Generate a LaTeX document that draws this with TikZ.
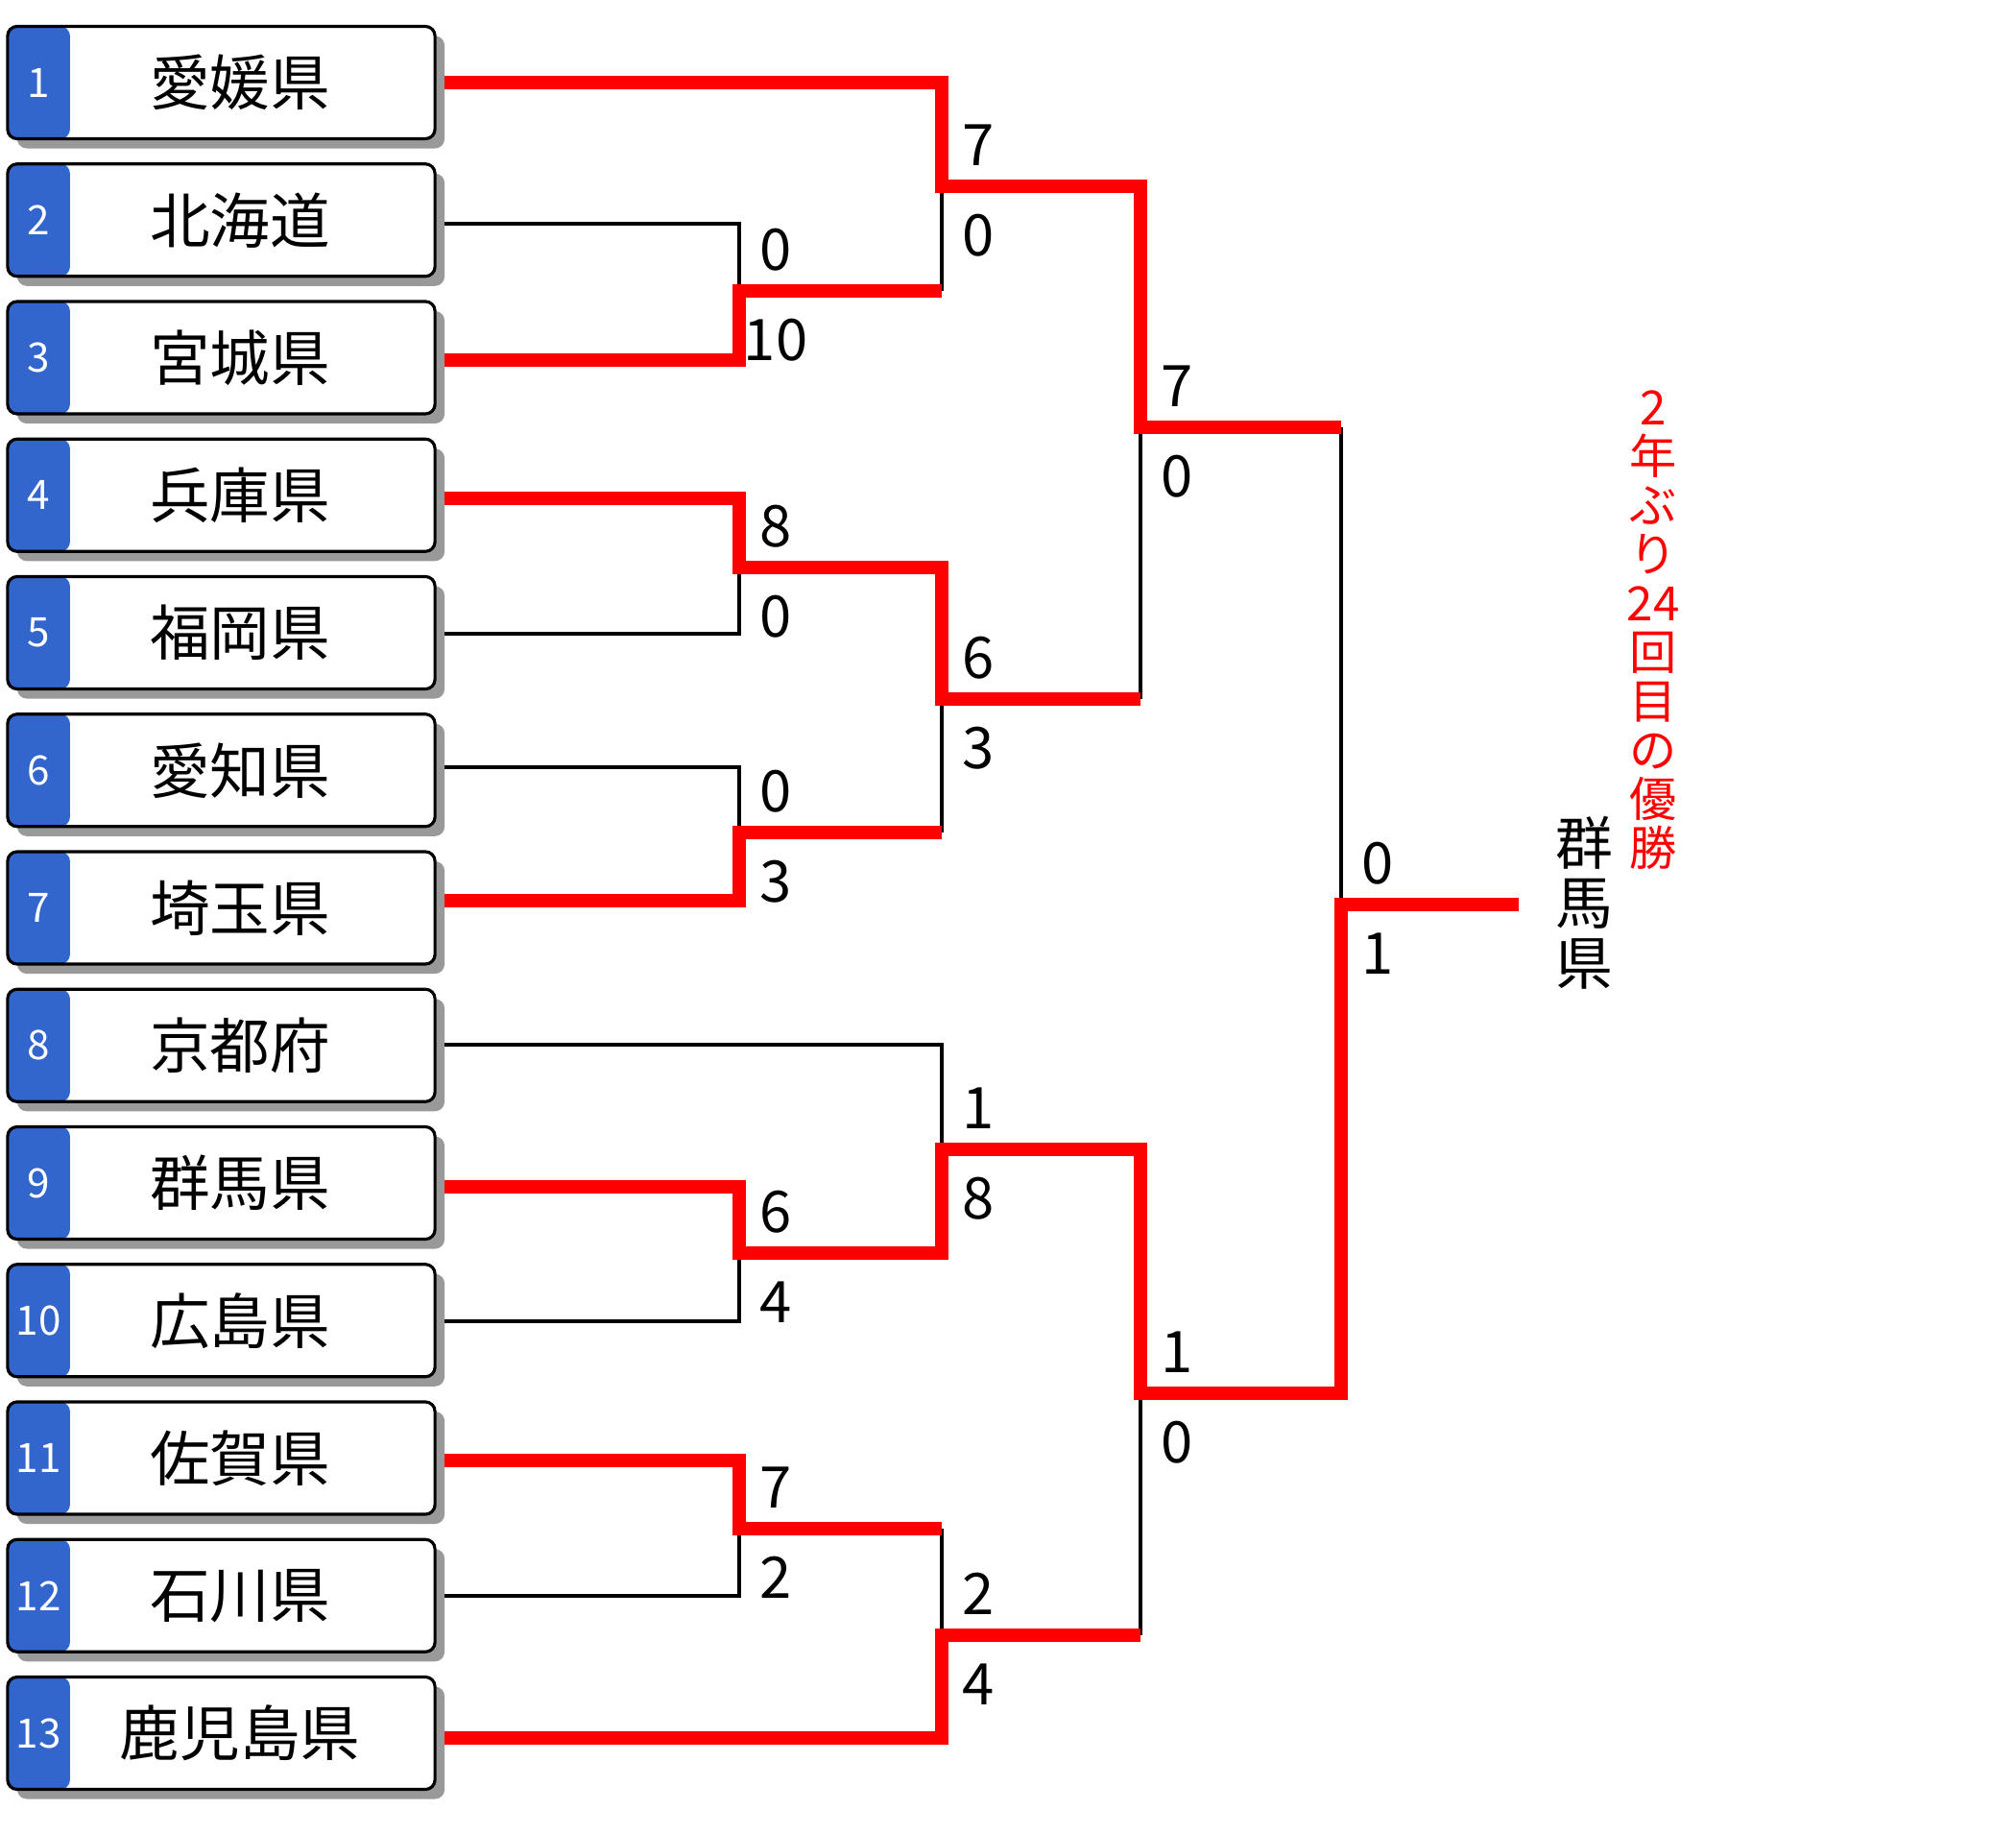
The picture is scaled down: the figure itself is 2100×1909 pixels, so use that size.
\documentclass[tikz,border=0pt]{standalone}
\usepackage{fontspec}
\setmainfont{Noto Sans CJK JP}
\usepackage{xcolor}
\usetikzlibrary{shadows}

\definecolor{seedblue}{RGB}{51,102,204}
\definecolor{shadowgray}{RGB}{153,153,153}

\begin{document}
\begin{tikzpicture}[x=0.01cm, y=-0.01cm,
  team/.style={draw=black, line width=0.9pt, fill=white, rounded corners=0.1cm,
    minimum width=4.45cm, minimum height=1.17cm, inner sep=0pt,
    drop shadow={shadow xshift=0.1cm, shadow yshift=-0.1cm, fill=shadowgray, opacity=1},
    path picture={\fill[seedblue] (path picture bounding box.south west)
      rectangle ([xshift=0.65cm]path picture bounding box.north west);}},
  seed/.style={text=white, inner sep=0pt, font=\fontsize{12pt}{12pt}\selectfont},
  teamname/.style={inner sep=0pt, font=\fontsize{17.8pt}{17.8pt}\selectfont},
  score/.style={inner sep=0pt, font=\fontsize{17pt}{17pt}\selectfont},
  lose/.style={draw=black, line width=1.1pt},
  win/.style={draw=red, line width=3.8pt, line join=miter},
  note/.style={text=red, align=center, inner sep=0pt, font=\fontsize{14pt}{14.5pt}\selectfont},
  winner/.style={align=center, inner sep=0pt, font=\fontsize{17pt}{17.7pt}\selectfont}]
  \useasboundingbox (0,0) rectangle (2100,1909);

  % Define team boxes
  \foreach \i/\name/\ly in {1/愛媛県/86, 2/北海道/233, 3/宮城県/375, 4/兵庫県/519,
      5/福岡県/660, 6/愛知県/799, 7/埼玉県/938, 8/京都府/1088, 9/群馬県/1236,
      10/広島県/1376, 11/佐賀県/1521, 12/石川県/1662, 13/鹿児島県/1810} {
    \pgfmathsetmacro\yy{86+143.25*(\i-1)}
    \node[team] (t\i) at (230.5,\yy) {};
    \node[seed] (s\i) at (40,\yy) {\i};
    \node[teamname] (n\i) at (250,\yy) {\name};
    \coordinate (p\i) at (463,\ly);
  }

  % Define match points
  \coordinate (m23) at (770,303);
  \coordinate (m45) at (770,591);
  \coordinate (m67) at (770,867);
  \coordinate (m910) at (770,1305);
  \coordinate (m1112) at (770,1592);
  \coordinate (m123) at (981,194);
  \coordinate (m4567) at (981,728);
  \coordinate (m8910) at (981,1197);
  \coordinate (m111213) at (981,1703);
  \coordinate (sf1) at (1188,445);
  \coordinate (sf2) at (1188,1451);
  \coordinate (fin) at (1397,942);
  \coordinate (goal) at (1582,942);

  % Losers
  \draw[lose] (p2) -| (m23);
  \draw[lose] (p5) -| (m45);
  \draw[lose] (p6) -| (m67);
  \draw[lose] (p8) -| (m8910);
  \draw[lose] (p10) -| (m910);
  \draw[lose] (p12) -| (m1112);
  \draw[lose] (m23 -| m123) -- (m123);
  \draw[lose] (m67 -| m4567) -- (m4567);
  \draw[lose] (m4567 -| sf1) -- (sf1);
  \draw[lose] (m1112 -| m111213) -- (m111213);
  \draw[lose] (m111213 -| sf2) -- (sf2);
  \draw[lose] (sf1 -| fin) -- (fin);

  % Winners
  \draw[win] (p1) -| (m123) -| (sf1) -- (sf1 -| fin);
  \draw[win] (p3) -| (m23) -- (m23 -| m123);
  \draw[win] (p4) -| (m45) -| (m4567) -- (m4567 -| sf1);
  \draw[win] (p7) -| (m67) -- (m67 -| m4567);
  \draw[win] (p9) -| (m910) -| (m8910) -| (sf2) -| (fin) -- (goal);
  \draw[win] (p11) -| (m1112) -- (m1112 -| m111213);
  \draw[win] (p13) -| (m111213) -- (m111213 -| sf2);

  % Scores
  \foreach \m/\u/\d in {m23/0/10, m45/8/0, m67/0/3, m910/6/4, m1112/7/2,
      m123/7/0, m4567/6/3, m8910/1/8, m111213/2/4, sf1/7/0, sf2/1/0, fin/0/1} {
    \node[score] (\m u) at ([shift={(38,-43)}]\m) {\u};
    \node[score] (\m d) at ([shift={(38,51)}]\m) {\d};
  }

  \node[winner] (champ) at (1650,940) {群\\馬\\県};
  \node[note] (title) at (1722,656) {2\\年\\ぶ\\り\\24\\回\\目\\の\\優\\勝};
\end{tikzpicture}
\end{document}
